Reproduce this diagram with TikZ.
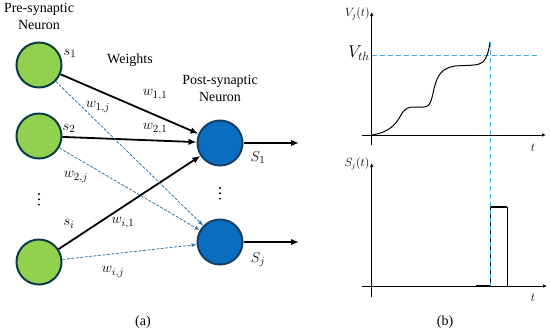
\documentclass[tikz,border=0pt]{standalone}
\usepackage{fontspec}
\setmainfont{Liberation Serif}
\usetikzlibrary{arrows.meta}
\definecolor{gfill}{HTML}{92D050}
\definecolor{gdraw}{HTML}{0E3B4C}
\definecolor{bfill}{HTML}{0A6EC0}
\definecolor{bdraw}{HTML}{163F66}
\definecolor{dashc}{HTML}{2F78A8}
\definecolor{guide}{HTML}{4AA8DC}
\tikzset{
  pre/.style={circle,fill=gfill,draw=gdraw,line width=2bp,minimum size=45bp,inner sep=0pt},
  post/.style={circle,fill=bfill,draw=bdraw,line width=2bp,minimum size=45bp,inner sep=0pt},
  txt/.style={font=\fontsize{14bp}{17bp}\selectfont,align=center,inner sep=0pt},
  lbl/.style={font=\fontsize{15.5bp}{18bp}\selectfont,inner sep=0pt},
  dotmark/.style={circle,fill=black,inner sep=0pt,minimum size=2.2bp},
  solidarr/.style={line width=1.8bp,-{Latex[length=8bp,width=6.5bp]}},
  dasharr/.style={dashc,line width=0.8bp,dash pattern=on 3bp off 1.5bp,-{Latex[length=5bp,width=4bp]}},
  axis/.style={line width=1bp,-{Latex[length=4bp,width=3.5bp]}},
  guideline/.style={guide,line width=0.9bp,dash pattern=on 5bp off 3bp},
}
\begin{document}
\begin{tikzpicture}[x=1bp,y=-1bp]
\useasboundingbox (0,0) rectangle (550,331);
% titles
\node[txt] (pretitle) at (39,16.5) {Pre-synaptic\\Neuron};
\node[txt] (posttitle) at (220,88.5) {Post-synaptic\\Neuron};
\node[txt] (weights) at (130,60) {Weights};
% neurons
\node[pre] (g1) at (39,65) {};
\node[pre] (g2) at (39,136) {};
\node[pre] (g3) at (39,262) {};
\node[post] (b1) at (220,143) {};
\node[post] (b2) at (220,242) {};
% vertical ellipses
\node[dotmark] (gd1) at (39,194) {};
\node[dotmark] (gd2) at (39,199.3) {};
\node[dotmark] (gd3) at (39,204.6) {};
\node[dotmark] (bd1) at (220,188) {};
\node[dotmark] (bd2) at (220,193.3) {};
\node[dotmark] (bd3) at (220,198.6) {};
% connections
\draw[solidarr] (g1) -- (b1);
\draw[solidarr] (g2) -- (b1);
\draw[solidarr] (g3) -- (b1);
\draw[dasharr] (g1) -- (b2);
\draw[dasharr] (g2) -- (b2);
\draw[dasharr] (g3) -- (b2);
\coordinate (o1) at (299,143);
\coordinate (o2) at (299,242);
\draw[solidarr] (b1) -- (o1);
\draw[solidarr] (b2) -- (o2);
% labels
\node[lbl] (ls1) at (70,53) {$s_1$};
\node[lbl] (ls2) at (69,128) {$s_2$};
\node[lbl] (lsi) at (69,224) {$s_i$};
\node[lbl] (lw11) at (155,95) {$w_{1,1}$};
\node[lbl] (lw21) at (155,129) {$w_{2,1}$};
\node[lbl] (lw1j) at (98,107) {$w_{1,j}$};
\node[lbl] (lw2j) at (76,177) {$w_{2,j}$};
\node[lbl] (lwi1) at (123,223) {$w_{i,1}$};
\node[lbl] (lwij) at (113,272) {$w_{i,j}$};
\node[lbl] (lS1) at (258,158) {$S_1$};
\node[lbl] (lSj) at (258,260) {$S_j$};
\node[txt] (capa) at (143,322) {(a)};
% ---- right panel: membrane potential
\coordinate (vy0) at (371.7,145);
\coordinate (vy1) at (371.7,12);
\coordinate (vx0) at (362,135);
\coordinate (vx1) at (546,135);
\draw[axis] (vy0) -- (vy1);
\draw[axis] (vx0) -- (vx1);
\node[font=\fontsize{11.5bp}{13bp}\selectfont,inner sep=0pt] (lv) at (357.5,14) {$V_j(t)$};
\node[font=\fontsize{18bp}{20bp}\selectfont,inner sep=0pt] (lvth) at (359,53) {$V_{th}$};
\node[font=\fontsize{13bp}{14bp}\selectfont,inner sep=0pt] (lt1) at (533,148) {$t$};
\coordinate (th0) at (372,55);
\coordinate (th1) at (540,55);
\draw[guideline] (th0) -- (th1);
\draw[line width=1bp] (372,135) .. controls (390,132) and (396,124) .. (401,115)
  .. controls (405,108) and (408,107) .. (415,107)
  -- (424,107)
  .. controls (432,107) and (432,95) .. (435,85)
  .. controls (438,75) and (442,68) .. (455,66)
  .. controls (470,65) and (478,66) .. (483,62)
  .. controls (487,58) and (489,50) .. (490,42);
% ---- spike train
\coordinate (sy0) at (371.7,297);
\coordinate (sy1) at (371.7,163);
\coordinate (sx0) at (362,286);
\coordinate (sx1) at (547,286);
\draw[axis] (sy0) -- (sy1);
\draw[axis] (sx0) -- (sx1);
\node[font=\fontsize{11.5bp}{13bp}\selectfont,inner sep=0pt] (ls) at (357,164) {$S_j(t)$};
\node[font=\fontsize{13bp}{14bp}\selectfont,inner sep=0pt] (lt2) at (533,298) {$t$};
\draw[line width=1bp] (490,286) -- (490,207);
\draw[line width=1.7bp] (490,207) -- (507.3,207);
\draw[line width=1bp] (507.3,207) -- (507.3,286);
\draw[line width=1.6bp] (476,286) -- (490,286);
\coordinate (vg0) at (490,42);
\coordinate (vg1) at (490,286);
\draw[guideline] (vg0) -- (vg1);
\node[txt] (capb) at (445,322) {(b)};
\end{tikzpicture}
\end{document}
